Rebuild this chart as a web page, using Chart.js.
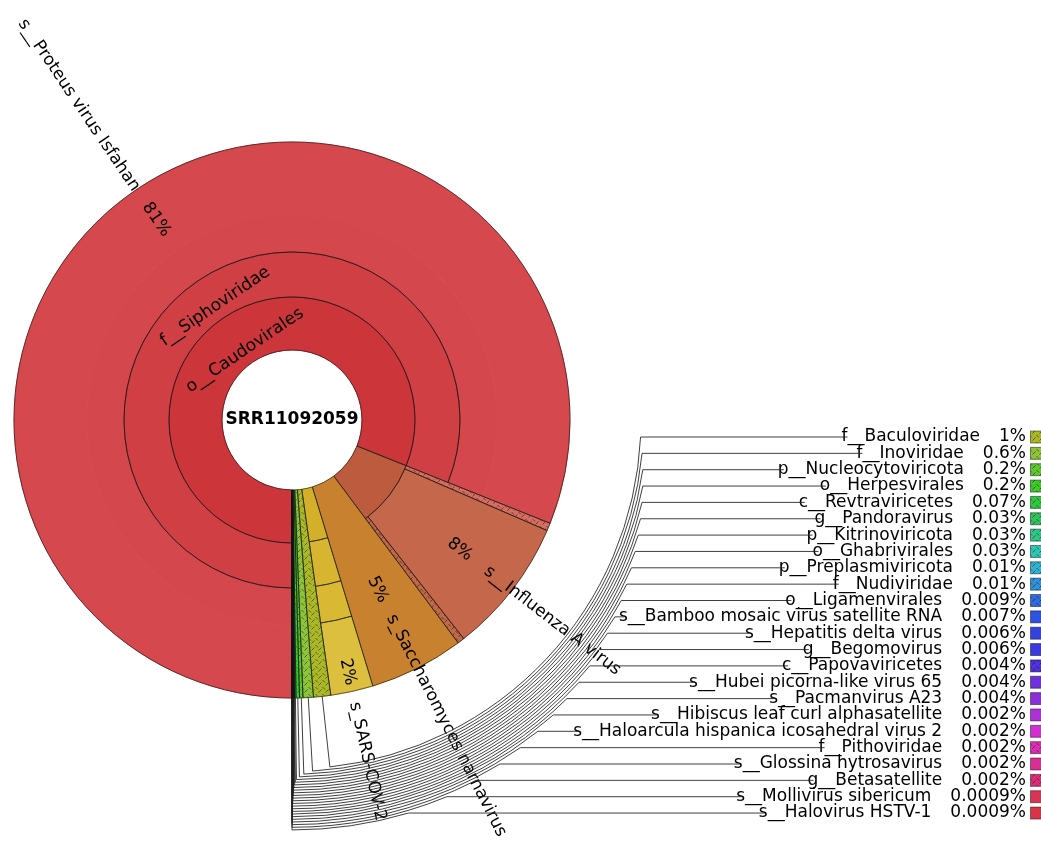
<!DOCTYPE html>
<html><head><meta charset="utf-8">
<script src="https://cdn.jsdelivr.net/npm/chart.js@4.4.0/dist/chart.umd.min.js"></script>
<style>html,body{margin:0;padding:0;background:#fff;}canvas{display:block;}</style>
</head><body>
<canvas id="c" width="1041" height="842"></canvas>
<script>
// ---------------- DATA ----------------
const centerLabel = 'SRR11092059';
const rankLabels = ['o__Caudovirales', 'f__Siphoviridae'];
// big wedges, clockwise from 6 o'clock
const mainNames = ['s__Proteus virus Isfahan', '', 's__Influenza A virus', '', 's_Saccharomyces narnavirus', 's_SARS-COV-2'];
const mainValues = [81.1, 0.45, 7.9, 0.4, 5.5, 2.47];
const mainPctLabels = ['81%', '', '8%', '', '5%', '2%'];
// small wedges listed in the key
const keyNames = ['f__Baculoviridae', 'f__Inoviridae', 'p__Nucleocytoviricota', 'o__Herpesvirales', 'c__Revtraviricetes',
  'g__Pandoravirus', 'p__Kitrinoviricota', 'o__Ghabrivirales', 'p__Preplasmiviricota', 'f__Nudiviridae', 'o__Ligamenvirales',
  's__Bamboo mosaic virus satellite RNA', 's__Hepatitis delta virus', 'g__Begomovirus', 'c__Papovaviricetes',
  's__Hubei picorna-like virus 65', 's__Pacmanvirus A23', 's__Hibiscus leaf curl alphasatellite',
  's__Haloarcula hispanica icosahedral virus 2', 'f__Pithoviridae', 's__Glossina hytrosavirus', 'g__Betasatellite',
  's__Mollivirus sibericum', 's__Halovirus HSTV-1'];
const keyValues = [1, 0.6, 0.2, 0.2, 0.07, 0.03, 0.03, 0.03, 0.01, 0.01, 0.009, 0.007, 0.006, 0.006, 0.004, 0.004, 0.004,
  0.002, 0.002, 0.002, 0.002, 0.002, 0.0009, 0.0009];

// ---------------- STYLE ----------------
const keyColors = ['#aab828', '#8ec43a', '#62c630', '#3ec82a', '#30c840', '#30c25c', '#30c68a', '#30c6b4', '#30b2d0',
  '#3090d8', '#306cdc', '#3052e0', '#3442e0', '#3c38e0', '#5232dc', '#7030dc', '#8a30d8', '#b030d8', '#d030d0',
  '#d830b0', '#d83092', '#d83074', '#d83454', '#d83446'];
const keyHatched = [1,1,1,1,1,1,1,1,1,1,1,0,0,0,1,0,0,0,0,1,0,1,0,0];
const FONT = '17px "DejaVu Sans", Verdana, sans-serif';

const patCtx = document.createElement('canvas').getContext('2d');
function hatch(color) {
  const t = document.createElement('canvas'); t.width = 7; t.height = 7;
  const g = t.getContext('2d');
  g.fillStyle = color; g.fillRect(0, 0, 7, 7);
  g.strokeStyle = 'rgba(0,0,0,0.6)'; g.lineWidth = 0.8;
  g.beginPath(); g.moveTo(0.5, 1); g.lineTo(3, 3.5); g.moveTo(3.5, 6.5); g.lineTo(6.5, 3.5); g.stroke();
  return patCtx.createPattern(t, 'repeat');
}

const segLabels = mainNames.concat(keyNames);
const segValues = mainValues.concat(keyValues);
// ring datasets: 0 = outermost
const ringWeights = [73, 37, 45, 53];
const ringRed = ['#d5494e', '#d4474c', '#d03f43', '#cc353a'];
const ringSars = ['#dcbf3e', '#d9b934', '#d7b530', '#d4b02a'];
const inflInner = '#bc5b3e';
function ringColors(r) {
  const c = [];
  c.push(ringRed[r]);
  c.push(r === 3 ? inflInner : hatch('#d76c60'));
  c.push(r === 3 ? inflInner : '#c4674a');
  c.push(r === 3 ? inflInner : hatch('#c2684a'));
  c.push('#c8812e');
  c.push(ringSars[r]);
  keyColors.forEach((k, i) => c.push(keyHatched[i] ? hatch(k) : k));
  return c;
}
function ringBorders(r) {
  const c = [ringRed[r], r === 3 ? inflInner : '#d76c60', r === 3 ? inflInner : '#c4674a', r === 3 ? inflInner : '#c2684a', '#c8812e', ringSars[r]];
  return c.concat(keyColors);
}
// nodes for outlines: [firstSeg, lastSeg, outerRing, innerRing]
const nodes = [[0,0,0,1],[0,0,2,2],[0,0,3,3],[1,1,0,2],[1,3,3,3],[2,2,0,2],[3,3,0,2],[4,4,0,3],
  [5,5,0,0],[5,5,1,1],[5,5,2,2],[5,5,3,3]];
keyNames.forEach((n, i) => nodes.push([6 + i, 6 + i, 0, 3]));

const outlinePlugin = {
  id: 'outline',
  afterDatasetsDraw(chart) {
    const ctx = chart.ctx;
    ctx.save();
    ctx.strokeStyle = 'rgba(20,20,20,0.75)';
    ctx.lineWidth = 0.8;
    nodes.forEach(([a, b, ro, ri]) => {
      const eo = chart.getDatasetMeta(ro).data[a];
      const eb = chart.getDatasetMeta(ro).data[b];
      const ei = chart.getDatasetMeta(ri).data[a];
      ctx.beginPath();
      ctx.arc(eo.x, eo.y, eo.outerRadius, eo.startAngle, eb.endAngle);
      ctx.arc(eo.x, eo.y, ei.innerRadius, eb.endAngle, eo.startAngle, true);
      ctx.closePath();
      ctx.stroke();
    });
    ctx.restore();
  }
};

function radial(ctx, el, r, text, mode) {
  const a = (el.startAngle + el.endAngle) / 2;
  const right = Math.cos(a) >= 0;
  ctx.save();
  ctx.translate(el.x + r * Math.cos(a), el.y + r * Math.sin(a));
  ctx.rotate(right ? a : a + Math.PI);
  ctx.textAlign = mode === 'center' ? 'center' : (right ? 'left' : 'right');
  ctx.textBaseline = 'middle';
  ctx.fillText(text, 0, 0);
  ctx.restore();
}

const labelPlugin = {
  id: 'labels',
  afterDraw(chart) {
    const ctx = chart.ctx;
    ctx.save();
    ctx.fillStyle = '#000';
    ctx.font = FONT;
    const m0 = chart.getDatasetMeta(0);
    const e0 = m0.data[0];
    // centre
    ctx.font = 'bold 17px "DejaVu Sans", Verdana, sans-serif';
    ctx.textAlign = 'center'; ctx.textBaseline = 'middle';
    ctx.fillText(centerLabel, e0.x, e0.y);
    ctx.font = FONT;
    // tangential rank labels
    [[3, rankLabels[0]], [2, rankLabels[1]]].forEach(([ri, txt]) => {
      const el = chart.getDatasetMeta(ri).data[0];
      const a = (el.startAngle + el.endAngle) / 2;
      const r = el.innerRadius + 14;
      ctx.save();
      ctx.translate(el.x + r * Math.cos(a), el.y + r * Math.sin(a));
      ctx.rotate(a + Math.PI / 2);
      ctx.textAlign = 'center'; ctx.textBaseline = 'middle';
      ctx.fillText(txt, 0, 0);
      ctx.restore();
    });
    // radial leaf labels
    const pctR = [242, 0, 212, 0, 190, 258];
    const nameR = [278, 0, 245, 0, 219, 289];
    mainNames.forEach((n, i) => {
      if (!n) return;
      const el = m0.data[i];
      radial(ctx, el, pctR[i], mainPctLabels[i], 'center');
      radial(ctx, el, nameR[i], n, 'out');
    });
    // key
    const rowTop = 437, rowStep = 16.35, pctRight = 1026, gap = 19;
    ctx.textBaseline = 'middle';
    keyNames.forEach((n, k) => {
      const ly = rowTop + k * rowStep;
      const pct = keyValues[k] + '%';
      ctx.font = FONT;
      const pw = ctx.measureText(pct).width;
      const nameRight = pctRight - pw - gap;
      const nw = ctx.measureText(n).width;
      ctx.textAlign = 'right';
      ctx.fillStyle = '#000';
      ctx.fillText(pct, pctRight, ly);
      ctx.fillText(n, nameRight, ly);
      // square
      ctx.fillStyle = keyHatched[k] ? hatch(keyColors[k]) : keyColors[k];
      ctx.fillRect(1030.5, ly - 6, 12, 12);
      ctx.strokeStyle = 'rgba(0,0,0,0.45)'; ctx.lineWidth = 1;
      ctx.strokeRect(1030.5, ly - 6, 12, 12);
      // leader line
      const el = m0.data[6 + k];
      let a = (el.startAngle + el.endAngle) / 2;
      while (a > 1.5 * Math.PI) a -= 2 * Math.PI;
      const R = el.outerRadius + 71 + k * 2.65;
      const b = Math.asin((ly - el.y) / R);
      ctx.beginPath();
      ctx.moveTo(el.x + el.outerRadius * Math.cos(a), el.y + el.outerRadius * Math.sin(a));
      ctx.lineTo(el.x + R * Math.cos(a), el.y + R * Math.sin(a));
      ctx.arc(el.x, el.y, R, a, b, true);
      ctx.lineTo(nameRight - nw + 6, ly);
      ctx.strokeStyle = 'rgba(30,30,30,0.85)'; ctx.lineWidth = 1;
      ctx.stroke();
    });
    ctx.restore();
  }
};

new Chart(document.getElementById('c'), {
  type: 'doughnut',
  data: {
    labels: segLabels,
    datasets: ringWeights.map((w, r) => ({
      data: segValues,
      weight: w,
      backgroundColor: ringColors(r),
      borderColor: ringBorders(r),
      borderWidth: 1,
      hoverOffset: 0
    }))
  },
  options: {
    responsive: false,
    animation: false,
    events: [],
    rotation: 180,
    radius: 278,
    cutout: (70 / 278 * 100) + '%',
    layout: { padding: { left: 14, right: 471, top: 142, bottom: 144 } },
    plugins: { legend: { display: false }, tooltip: { enabled: false } }
  },
  plugins: [outlinePlugin, labelPlugin]
});
</script>
</body></html>
